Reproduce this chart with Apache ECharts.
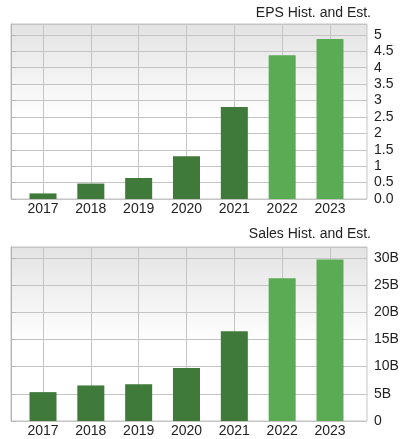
<!DOCTYPE html>
<html>
<head>
<meta charset="utf-8">
<script src="https://cdn.jsdelivr.net/npm/echarts@6/dist/echarts.min.js"></script>
<style>
html,body{margin:0;padding:0;background:#fff;}
#c{width:412px;height:439px;}
</style>
</head>
<body>
<div id="c"></div>
<script>
var years = ['2017','2018','2019','2020','2021','2022','2023'];
var isEstimate = [false,false,false,false,false,true,true];
var epsValues = [0.17, 0.47, 0.64, 1.30, 2.80, 4.38, 4.87];
var salesValues = [5.31, 6.54, 6.78, 9.77, 16.49, 26.27, 29.69]; // billions
var epsTickLabels = ['0.0','0.5','1','1.5','2','2.5','3','3.5','4','4.5','5'];
var salesTickLabels = ['0','5B','10B','15B','20B','25B','30B'];

var FONT = 'Liberation Sans, Arial, sans-serif';
var DARK = '#3f7a3a';
var LIGHT = '#5aab54';
var W = 412;

function bg() {
  return {type:'linear', x:0, y:0, x2:0, y2:1,
    colorStops:[{offset:0,color:'#e3e3e3'},{offset:0.55,color:'#ffffff'},{offset:1,color:'#ffffff'}]};
}

var panels = [
  {title:'EPS Hist. and Est.', top:24, height:175, max:5.33, interval:0.5, labels:epsTickLabels, values:epsValues, titleTop:6},
  {title:'Sales Hist. and Est.', top:247, height:174, max:32, interval:5, labels:salesTickLabels, values:salesValues, titleTop:227}
];

var option = {animation:false, title:[], grid:[], xAxis:[], yAxis:[], series:[]};

panels.forEach(function(p, i){
  option.title.push({text:p.title, right:W-371, top:p.titleTop, padding:0,
    textStyle:{fontFamily:FONT, fontSize:14, fontWeight:'normal', color:'#222'}});
  // outer grid (background, border, horizontal lines, right axis)
  option.grid.push({left:11, right:45, top:p.top, height:p.height, show:true,
    backgroundColor:bg(), borderColor:'#c4c4c4', borderWidth:1});
  // inner grid (bars, category labels, vertical lines)
  option.grid.push({left:43, right:W-330, top:p.top, height:p.height, show:false});
  var g0 = i*2, g1 = i*2+1;
  option.xAxis.push({gridIndex:g0, type:'value', show:false, min:0, max:1});
  option.xAxis.push({gridIndex:g1, type:'category', data:years, boundaryGap:false,
    axisLine:{show:false}, axisTick:{show:false},
    axisLabel:{color:'#222', fontFamily:FONT, fontSize:14, margin:3},
    splitLine:{show:true, lineStyle:{color:'#c4c4c4', width:1}}});
  option.yAxis.push({gridIndex:g0, type:'value', position:'right', min:0, max:p.max, interval:p.interval,
    axisLine:{show:true, lineStyle:{color:'#b4b4b4'}},
    axisTick:{show:true, length:5, lineStyle:{color:'#b4b4b4'}},
    axisLabel:{color:'#222', fontFamily:FONT, fontSize:14, margin:7, showMaxLabel:false,
      formatter:(function(labels){return function(v, idx){ return labels[idx] !== undefined ? labels[idx] : ''; };})(p.labels)},
    splitLine:{show:true, lineStyle:{color:'#c4c4c4', width:1}}});
  option.yAxis.push({gridIndex:g1, type:'value', show:false, min:0, max:p.max});
  option.series.push({type:'bar', xAxisIndex:i*2+1, yAxisIndex:i*2+1, data:p.values,
    barWidth:27, clip:false,
    itemStyle:{color:function(params){ return isEstimate[params.dataIndex] ? LIGHT : DARK; }}});
});

var chart = echarts.init(document.getElementById('c'));
chart.setOption(option);
</script>
</body>
</html>
